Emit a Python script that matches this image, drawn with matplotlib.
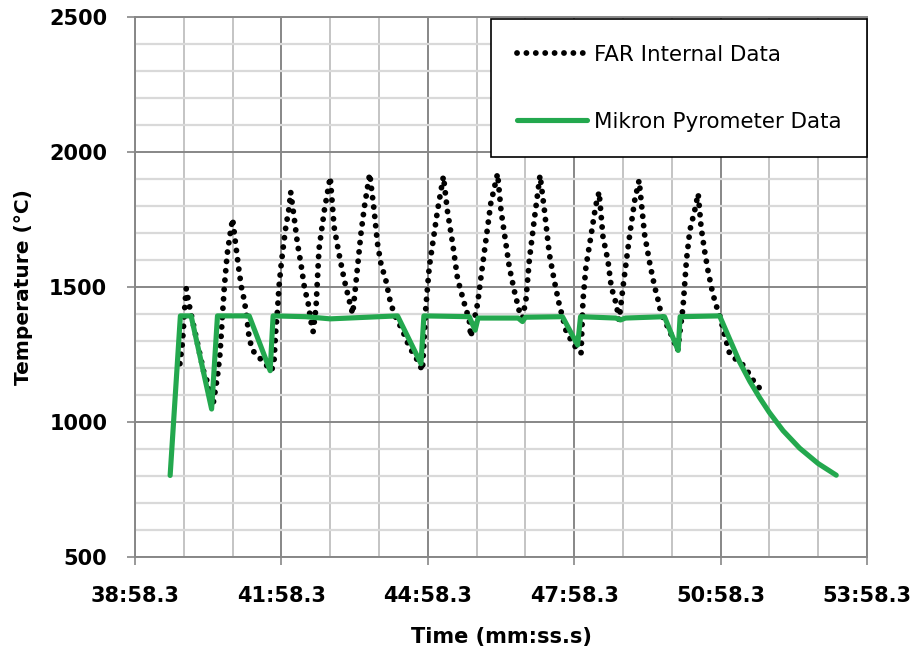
import matplotlib
matplotlib.use("Agg")
import matplotlib.pyplot as plt
from matplotlib.ticker import MultipleLocator, FixedLocator, NullFormatter

# ---- data (time in minutes after 38:58.3) ----
far_t = [0.92, 0.97, 1.03, 1.05, 1.10, 1.14, 1.41, 1.48, 1.60, 1.69, 1.74, 1.78, 1.83, 1.89,
         1.95, 2.00, 2.06, 2.13, 2.18, 2.24, 2.29, 2.34, 2.41, 2.60, 2.80, 2.85, 2.88, 2.92,
         2.95, 2.99, 3.03, 3.09, 3.16, 3.19, 3.26, 3.33, 3.40, 3.47, 3.55, 3.60, 3.65, 3.71,
         3.77, 3.88, 4.00, 4.08, 4.18, 4.29, 4.39, 4.46, 4.49, 4.56, 4.63, 4.70, 4.81, 4.90,
         4.97, 5.04, 5.14, 5.24, 5.34, 5.48, 5.62, 5.79, 5.89, 5.96, 6.03, 6.10, 6.20, 6.32,
         6.40, 6.51, 6.61, 6.75, 6.85, 6.88, 7.02, 7.09, 7.19, 7.29, 7.43, 7.50, 7.60, 7.67,
         7.77, 7.87, 7.94, 8.01, 8.08, 8.18, 8.30, 8.39, 8.49, 8.59, 8.69, 8.83, 8.97, 9.14,
         9.18, 9.24, 9.34, 9.44, 9.51, 9.59, 9.69, 9.76, 9.86, 9.92, 10.00, 10.07, 10.14,
         10.24, 10.33, 10.44, 10.55, 10.65, 10.72, 10.78, 10.95, 11.12, 11.23, 11.26, 11.30,
         11.37, 11.47, 11.54, 11.60, 11.67, 11.74, 11.84, 11.92, 11.98, 12.10, 12.19, 12.46,
         12.58, 12.70, 12.84]
far_T = [1216, 1290, 1450, 1494, 1444, 1407, 1185, 1150, 1065, 1170, 1250, 1360, 1500, 1623,
         1697, 1753, 1661, 1563, 1500, 1450, 1389, 1310, 1265, 1228, 1190, 1228, 1327, 1414,
         1500, 1574, 1636, 1722, 1796, 1852, 1759, 1660, 1586, 1500, 1438, 1377, 1335, 1426,
         1640, 1784, 1907, 1722, 1623, 1525, 1450, 1400, 1450, 1574, 1698, 1796, 1920, 1784,
         1660, 1586, 1525, 1438, 1389, 1340, 1278, 1228, 1190, 1426, 1574, 1660, 1784, 1910,
         1784, 1660, 1530, 1438, 1377, 1315, 1438, 1537, 1673, 1809, 1920, 1784, 1660, 1574,
         1488, 1414, 1385, 1451, 1599, 1747, 1914, 1784, 1623, 1525, 1438, 1340, 1290, 1255,
         1451, 1574, 1685, 1800, 1852, 1685, 1599, 1500, 1438, 1377, 1500, 1599, 1697,
         1821, 1895, 1697, 1586, 1500, 1451, 1401, 1340, 1265, 1426, 1500, 1599,
         1710, 1784, 1846, 1722, 1636, 1562, 1475, 1426, 1395, 1310, 1250, 1211,
         1180, 1145, 1117]

mik_t = [0.72, 0.93, 1.15, 1.57, 1.69, 2.34, 2.77, 2.83, 3.50, 4.00, 4.50, 5.00, 5.38, 5.86,
         5.92, 6.85, 6.97, 7.03, 7.85, 7.94, 8.00, 8.76, 9.07, 9.13, 9.85, 9.95, 10.05, 10.85,
         11.13, 11.17, 11.98, 12.19, 12.39, 12.60, 12.80, 13.00, 13.28, 13.62, 14.00, 14.37]
mik_T = [802, 1393, 1393, 1048, 1393, 1393, 1190, 1393, 1390, 1382, 1386, 1390, 1393, 1216,
         1393, 1390, 1340, 1385, 1385, 1372, 1388, 1390, 1285, 1390, 1385, 1378, 1385, 1390,
         1265, 1390, 1393, 1305, 1222, 1150, 1090, 1035, 968, 903, 846, 803]

xtick_pos = [0, 3, 6, 9, 12, 15]
xtick_labels = ["38:58.3", "41:58.3", "44:58.3", "47:58.3", "50:58.3", "53:58.3"]
ytick_pos = [500, 1000, 1500, 2000, 2500]

series_names = ["FAR Internal Data", "Mikron Pyrometer Data"]

# ---- figure ----
W, H = 914, 653
AX_L, AX_R, AX_T, AX_B = 135, 867, 17, 557
fig = plt.figure(figsize=(W / 100, H / 100), dpi=100)
ax = fig.add_axes([AX_L / W, 1 - AX_B / H, (AX_R - AX_L) / W, (AX_B - AX_T) / H])

green = "#23a84e"
ax.plot(far_t, far_T, color="black", lw=4.2, linestyle=(0, (0.01, 1.6)),
        dash_capstyle="round", solid_capstyle="round", label=series_names[0], zorder=3)
ax.plot(mik_t, mik_T, color=green, lw=3.7, solid_capstyle="round",
        solid_joinstyle="round", label=series_names[1], zorder=4)

ax.set_xlim(0, 15)
ax.set_ylim(500, 2500)
ax.xaxis.set_major_locator(FixedLocator(xtick_pos))
ax.xaxis.set_major_formatter(NullFormatter())
ax.xaxis.set_minor_locator(MultipleLocator(1))
ax.yaxis.set_major_locator(FixedLocator(ytick_pos))
ax.yaxis.set_minor_locator(MultipleLocator(100))

ax.set_axisbelow(True)
ax.xaxis.grid(True, which="major", color="#878787", lw=1.4)
ax.yaxis.grid(True, which="major", color="#878787", lw=1.4)
ax.xaxis.grid(True, which="minor", color="#bfbfbf", lw=1.3)
ax.yaxis.grid(True, which="minor", color="#d9d9d9", lw=1.6)
for s in ax.spines.values():
    s.set_color("#878787")
    s.set_linewidth(1.4)

ax.tick_params(axis="both", which="minor", length=0)
ax.tick_params(axis="y", which="major", length=6, width=1.2, color="#878787", pad=14,
               labelsize=15)
ax.tick_params(axis="x", which="major", length=6, width=1.2, color="#878787")
for lab in ax.get_yticklabels():
    lab.set_fontfamily("DejaVu Sans")
    lab.set_fontweight("bold")

# x tick labels as text placed below the axis
xlab_y = (AX_B - 596) / (AX_B - AX_T)
for xp, txt in zip(xtick_pos, xtick_labels):
    ax.text(xp, xlab_y, txt, transform=ax.get_xaxis_transform(), ha="center", va="center",
            family="DejaVu Sans", weight="bold", size=15, clip_on=False)

ax.set_xlabel("Time (mm:ss.s)", family="DejaVu Sans", weight="bold", size=15)
ax.xaxis.set_label_coords(0.5, (AX_B - 637) / (AX_B - AX_T))
ax.xaxis.label.set_va("center")
ax.set_ylabel("Temperature (°C)", family="DejaVu Sans", weight="bold", size=14.5)
ax.yaxis.set_label_coords((24 - AX_L) / (AX_R - AX_L), 0.5)
ax.yaxis.label.set_va("center")

leg = ax.legend(loc="upper right", bbox_to_anchor=(AX_R / W, 1 - 19 / H),
                bbox_transform=fig.transFigure, borderaxespad=0, fancybox=False,
                framealpha=1, edgecolor="black", prop=dict(family="DejaVu Sans", size=15.4),
                handlelength=3.3, handletextpad=0.3, borderpad=1.2, labelspacing=2.2)
leg.get_frame().set_linewidth(1.2)
leg.set_zorder(10)

fig.savefig("out.png", dpi=100)
